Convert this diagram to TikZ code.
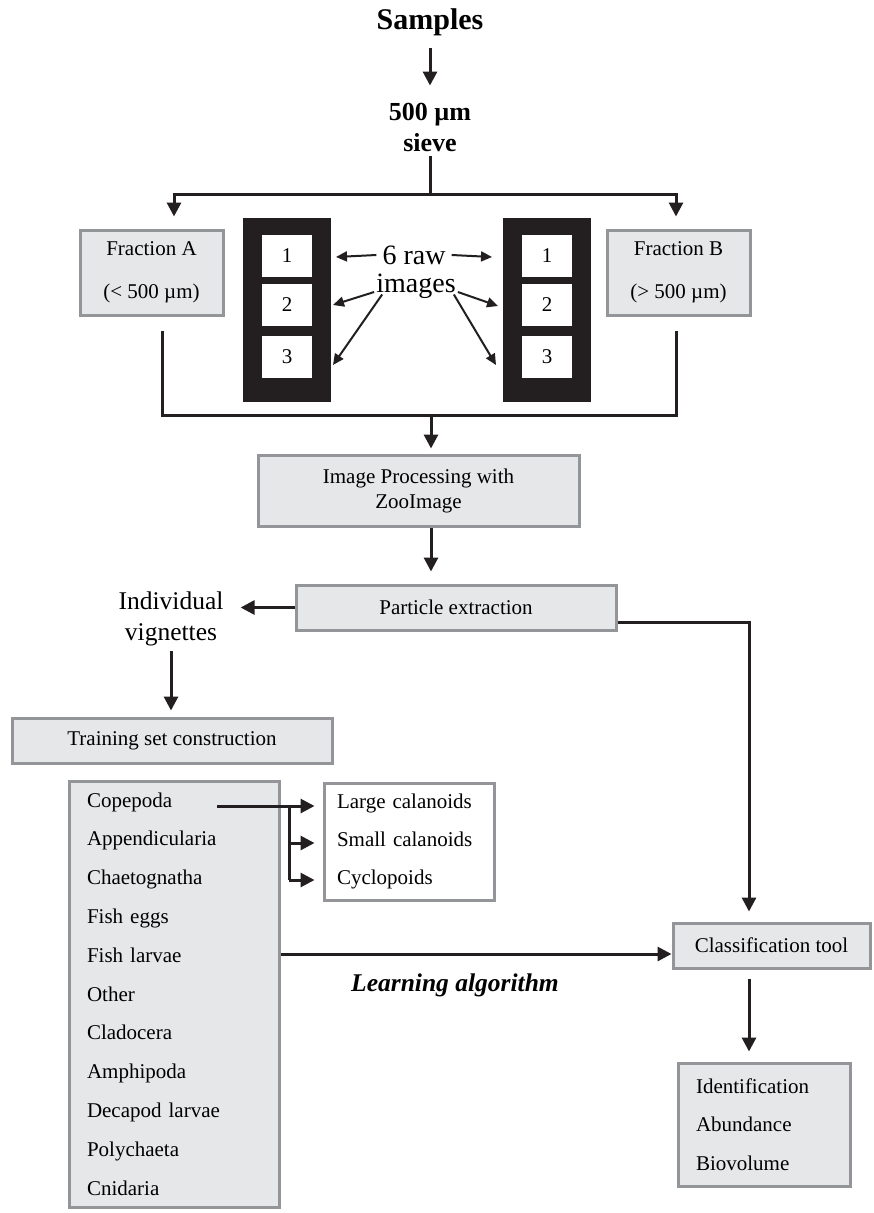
\documentclass[tikz,border=0pt]{standalone}
\usepackage{fontspec}
\setmainfont{Liberation Serif}
\usetikzlibrary{arrows.meta}
\definecolor{boxfill}{HTML}{E6E7E8}
\definecolor{boxline}{HTML}{939598}
\definecolor{ink}{HTML}{231F20}
\begin{document}
\begin{tikzpicture}[x=1pt,y=-1pt,
        box/.style={draw=boxline,fill=boxfill,line width=3pt,inner sep=0pt,align=center,
            font=\fontsize{21}{25}\selectfont},
        frame/.style={fill=white,inner sep=0pt,minimum width=50pt,minimum height=42pt,
            font=\fontsize{21}{25}\selectfont},
        lbl/.style={inner sep=0pt,align=center},
        wire/.style={draw=ink,line width=3pt},
        conn/.style={wire,-{Triangle[length=14pt,width=14pt]}},
        thin/.style={draw=ink,line width=2pt,-{Triangle[length=11pt,width=10pt]}}]
    \useasboundingbox (0,0) rectangle (873,1213);

    \node[lbl,font=\fontsize{30}{36}\selectfont\bfseries] (samples) at (430,22) {Samples};
    \node[lbl,font=\fontsize{26}{31}\selectfont\bfseries] (sieve) at (430,127) {500 µm\\sieve};

    \begin{scope}[every node/.style={box}]
        \node[minimum width=143pt,minimum height=85pt,font=\fontsize{21}{43}\selectfont] (fa) at (151.5,272.5) {Fraction A\\(< 500 µm)};
        \node[minimum width=143pt,minimum height=85pt,font=\fontsize{21}{43}\selectfont] (fb) at (678.5,272.5) {Fraction B\\(> 500 µm)};
        \node[minimum width=321pt,minimum height=71pt] (proc) at (418.5,490.5) {Image Processing with\\ZooImage};
        \node[minimum width=320pt,minimum height=45pt] (part) at (456,607.5) {Particle extraction};
        \node[minimum width=320pt,minimum height=45pt] (train) at (172,740.5) {Training set construction};
        \node[minimum width=197pt,minimum height=45pt] (clas) at (771.5,945.5) {Classification tool};
        \node[minimum width=210pt,minimum height=426pt,align=left,text width=174pt,inner xsep=18pt,
            font=\fontsize{21}{38.8}\selectfont] (taxa) at (174,994)
            {Copepoda\\Appendicularia\\Chaetognatha\\Fish eggs\\Fish larvae\\Other\\Cladocera\\Amphipoda\\Decapod larvae\\Polychaeta\\Cnidaria};
        \node[fill=white,minimum width=170pt,minimum height=117pt,align=left,text width=144pt,inner xsep=13pt,
            font=\fontsize{21}{38}\selectfont] (cala) at (409,841.5)
            {Large calanoids\\Small calanoids\\Cyclopoids};
        \node[minimum width=172pt,minimum height=123pt,align=left,text width=136pt,inner xsep=18pt,
            font=\fontsize{21}{38.5}\selectfont] (out) at (764,1124.5)
            {Identification\\Abundance\\Biovolume};
    \end{scope}

    \node[fill=ink,minimum width=88pt,minimum height=184pt] (stripA) at (287,310) {};
    \node[fill=ink,minimum width=88pt,minimum height=184pt] (stripB) at (547,310) {};
    \foreach \n/\y in {1/255.5,2/305,3/357} {
        \node[frame] (a\n) at (287,\y) {\n};
        \node[frame] (b\n) at (547,\y) {\n};
    }

    \node[lbl,inner xsep=6pt,font=\fontsize{28}{30}\selectfont] (raw) at (414,255) {6 raw};
    \node[lbl,inner sep=2pt,font=\fontsize{28}{30}\selectfont] (img) at (416,286) {images};
    \node[lbl,inner xsep=6pt,font=\fontsize{25.5}{31}\selectfont] (vig) at (171,619) {Individual\\vignettes};
    \node[lbl,font=\fontsize{25.5}{30}\selectfont\bfseries\itshape] (learnlbl) at (455,985) {Learning algorithm};

    \coordinate (split) at (430,194);
    \coordinate (dropA) at (174,194);
    \coordinate (dropB) at (676,194);
    \coordinate (joinA) at (162,415);
    \coordinate (joinB) at (676,415);
    \coordinate (merge) at (431,415);
    \coordinate (turn) at (749,622);
    \coordinate (learn) at (279,954);
    \coordinate (cop) at (217,806);
    \coordinate (fork) at (289,806);
    \coordinate (smal) at (289,843);
    \coordinate (cycl) at (289,880);
    \coordinate (ta1) at (336,257);
    \coordinate (ta2) at (333,305);
    \coordinate (ta3) at (333,365);
    \coordinate (tb1) at (492,257);
    \coordinate (tb2) at (498,306);
    \coordinate (tb3) at (496,365);

    \draw[conn,shorten <=12pt,shorten >=17pt] (samples.south) -- (sieve.north);
    \draw[wire,shorten <=5pt] (sieve.south) -- (split);
    \draw[wire,{Triangle[length=14pt,width=14pt]}-{Triangle[length=14pt,width=14pt]},shorten <=12pt,shorten >=12pt]
        (dropA |- fa.north) -- (dropA) -- (dropB) -- (dropB |- fb.north);
    \draw[wire,shorten <=14pt,shorten >=14pt] (joinA |- fa.south) -- (joinA) -- (joinB) -- (joinB |- fb.south);
    \draw[conn,shorten >=5pt] (merge) -- (merge |- proc.north);
    \draw[conn,shorten >=12pt] (merge |- proc.south) -- (merge |- part.north);
    \draw[conn,shorten >=11pt] (part.west) -- (part.west -| vig.east);
    \draw[conn,shorten <=5pt,shorten >=6pt] (vig.south) -- (vig.south |- train.north);
    \draw[conn,shorten >=10pt] (part.east |- turn) -- (turn) -- (turn |- clas.north);
    \draw[conn,shorten <=9pt,shorten >=10pt] (turn |- clas.south) -- (turn |- out.north);
    \draw[conn] (taxa.east |- learn) -- (learn -| clas.west);

    \draw[conn,shorten >=8pt] (cop) -- (cop -| cala.west);
    \draw[wire] (fork) -- (cycl);
    \draw[conn,shorten >=8pt] (smal) -- (smal -| cala.west);
    \draw[conn,shorten >=8pt] (cycl) -- (cycl -| cala.west);

    \draw[thin] (raw.west) -- (ta1);
    \draw[thin] (raw.east) -- (tb1);
    \draw[thin] ([yshift=-6pt]img.west) -- (ta2);
    \draw[thin] ([xshift=8pt,yshift=6pt]img.south west) -- (ta3);
    \draw[thin] ([yshift=-6pt]img.east) -- (tb2);
    \draw[thin] ([xshift=-4pt,yshift=6pt]img.south east) -- (tb3);
\end{tikzpicture}
\end{document}
